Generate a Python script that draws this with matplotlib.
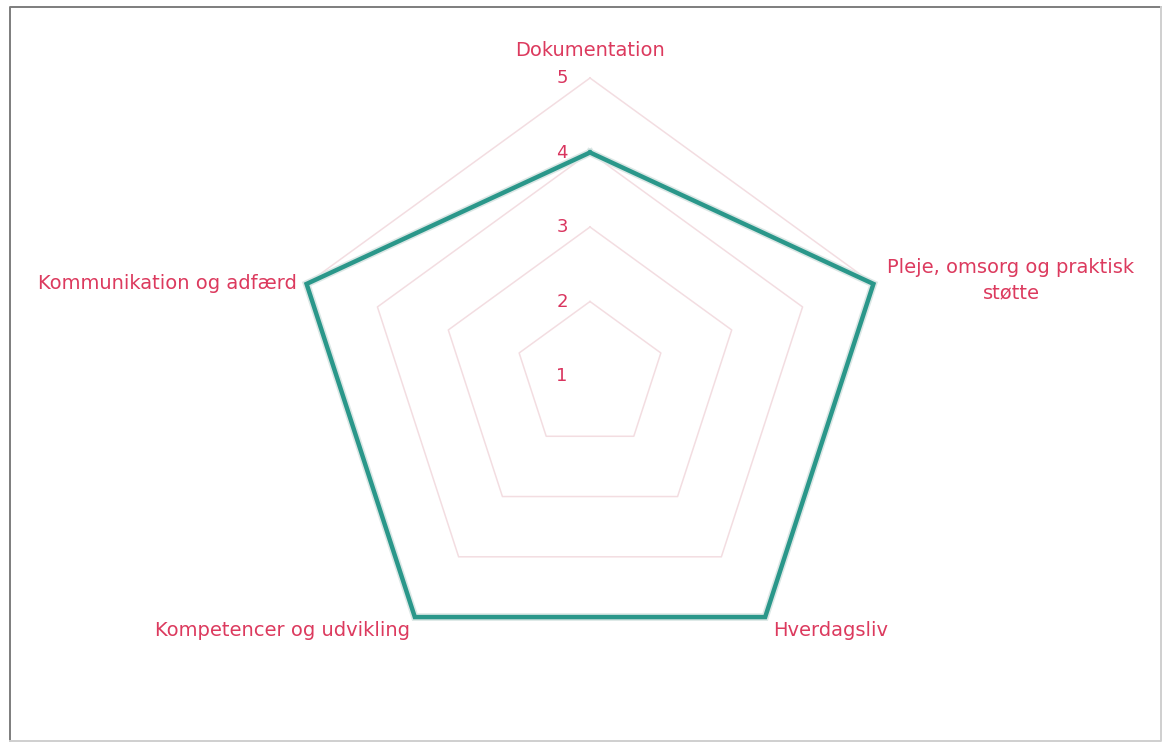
import numpy as np
import matplotlib
matplotlib.use("Agg")
import matplotlib.pyplot as plt
from matplotlib.lines import Line2D

categories = ["Dokumentation", "Pleje, omsorg og praktisk\nstøtte", "Hverdagsliv",
              "Kompetencer og udvikling", "Kommunikation og adfærd"]
values = [4, 5, 5, 5, 5]
ring_levels = [2, 3, 4, 5]
tick_labels = ["1", "2", "3", "4", "5"]
scale_min = 1

W, H, DPI = 1162, 742, 100
cx_px, cy_px, unit_px = 590, 376, 74.5

fig = plt.figure(figsize=(W / DPI, H / DPI), dpi=DPI)
fig.patch.set_facecolor("white")
ax = fig.add_axes([0, 0, 1, 1])
ax.set_xlim(-cx_px / unit_px, (W - cx_px) / unit_px)
ax.set_ylim(-(H - cy_px) / unit_px, cy_px / unit_px)
ax.axis("off")

# frame: darker left/top, lighter right/bottom
L, R, T, B = 10 / W, 1160.5 / W, 1 - 7 / H, 1.5 / H
fig.lines.append(Line2D([L, L, R], [B, T, T], transform=fig.transFigure, color="#7d7d7d", lw=1.4))
fig.lines.append(Line2D([L, R, R], [B, B, T], transform=fig.transFigure, color="#cfcfcf", lw=1.4))

n = len(categories)
angles = np.arange(n) * 2 * np.pi / n

def xy(vals):
    r = np.asarray(vals, dtype=float) - scale_min
    return r * np.sin(angles), r * np.cos(angles)

font = ["DejaVu Sans"]
lab_color = "#dc3a5e"

for lvl in ring_levels:
    x, y = xy([lvl] * n)
    ax.plot(np.append(x, x[0]), np.append(y, y[0]), color="#f3dde1", lw=1.1, zorder=1)

x, y = xy(values)
ax.plot(np.append(x, x[0]), np.append(y, y[0]), color="#dbe7e5", lw=5.5, zorder=2,
        solid_joinstyle="miter")
ax.plot(np.append(x, x[0]), np.append(y, y[0]), color="#2a978a", lw=3.2, zorder=3,
        solid_joinstyle="miter")

for i, t in enumerate(tick_labels):
    ax.text(-28 / unit_px, i, t, ha="center", va="center", fontsize=13, color="#d9345e",
            family=font, zorder=4)

# category labels
xo, yo = xy([scale_min + 4] * n)
offsets = [(0, 27, "center", "center"), (14, 4, "left", "center"), (8, -13, "left", "center"),
           (-5, -13, "right", "center"), (-10, 0, "right", "center")]
for i, cat in enumerate(categories):
    dx, dy, ha, va = offsets[i]
    ax.text(xo[i] + dx / unit_px, yo[i] + dy / unit_px, cat, ha=ha, va=va, fontsize=14,
            color=lab_color, family=font, multialignment="center", linespacing=1.4)

fig.savefig("out.png", dpi=DPI, facecolor="white")
